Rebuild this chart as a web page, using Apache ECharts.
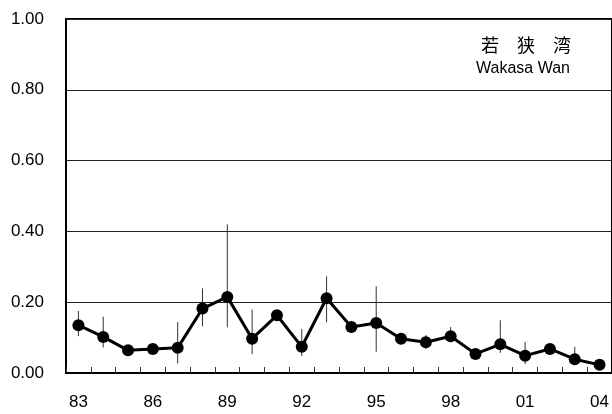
<!DOCTYPE html>
<html><head><meta charset="utf-8">
<script src="https://cdn.jsdelivr.net/npm/echarts@6/dist/echarts.min.js"></script>
<style>html,body{margin:0;padding:0;background:#fff}#c{width:612px;height:414px}</style>
</head><body><div id="c"></div>
<script>
var years = ['83','84','85','86','87','88','89','90','91','92','93','94','95','96','97','98','99','00','01','02','03','04'];
var values = [0.135,0.102,0.064,0.068,0.071,0.182,0.215,0.097,0.163,0.074,0.211,0.130,0.141,0.097,0.087,0.104,0.054,0.081,0.049,0.068,0.039,0.023];
var errHigh = [0.175,0.159,null,null,0.144,0.239,0.420,0.179,null,0.124,0.273,0.147,0.245,null,0.107,0.130,null,0.149,0.088,null,0.074,null];
var errLow  = [0.104,0.072,null,null,0.027,0.132,0.129,0.053,null,0.048,0.143,0.114,0.060,null,0.068,0.093,null,0.057,0.025,null,0.030,null];
var yTicks = [0,0.2,0.4,0.6,0.8,1.0];
var titleJa = '若\u3000狭\u3000湾';
var titleEn = 'Wakasa Wan';

var errData = [];
for (var i = 0; i < years.length; i++) {
  if (errHigh[i] != null) errData.push([i, errLow[i], errHigh[i]]);
}
var chart = echarts.init(document.getElementById('c'), null, {renderer:'canvas'});
var font = 'Liberation Sans, Arial, sans-serif';
chart.setOption({
  animation: false,
  grid: {left: 66, top: 19, width: 547, height: 354, show: true, borderColor: '#000', borderWidth: 2, backgroundColor: 'transparent'},
  xAxis: {
    type: 'category', data: years, boundaryGap: true,
    axisLine: {lineStyle: {color: '#000', width: 2}},
    axisTick: {show: true, inside: true, length: 6, interval: 0, lineStyle: {color: '#333', width: 1}},
    axisLabel: {interval: 2, color: '#000', fontSize: 17, fontFamily: font, margin: 21}
  },
  yAxis: {
    type: 'value', min: yTicks[0], max: yTicks[yTicks.length-1], interval: 0.2,
    axisLine: {show: true, lineStyle: {color: '#000', width: 2}},
    axisTick: {show: false},
    axisLabel: {color: '#000', fontSize: 17, fontFamily: font, margin: 22, formatter: function(v){return v.toFixed(2);}},
    splitLine: {show: true, lineStyle: {color: '#222', width: 1}}
  },
  graphic: [
    {type: 'text', left: 481, top: 36, style: {text: titleJa, fontSize: 18, fontFamily: 'Noto Sans CJK JP', fill: '#000'}},
    {type: 'text', left: 476, top: 61, style: {text: titleEn, fontSize: 16, fontFamily: font, fill: '#000'}}
  ],
  series: [
    {
      type: 'custom', z: 1,
      renderItem: function(params, api) {
        var x = api.value(0);
        var p1 = api.coord([x, api.value(1)]);
        var p2 = api.coord([x, api.value(2)]);
        return {type: 'line', shape: {x1: p1[0], y1: p1[1], x2: p2[0], y2: p2[1]}, style: {stroke: '#333', lineWidth: 1}};
      },
      encode: {x: 0, y: [1, 2]},
      data: errData
    },
    {
      type: 'line', z: 3, data: values,
      symbol: 'circle', symbolSize: 12,
      itemStyle: {color: '#000'},
      lineStyle: {color: '#000', width: 3}
    }
  ]
});
</script></body></html>
